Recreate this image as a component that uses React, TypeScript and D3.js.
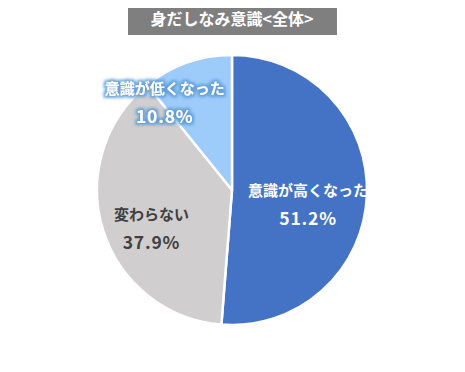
import React, { useRef, useEffect } from "react";
import * as d3 from "d3";

const categories = ["意識が高くなった", "変わらない", "意識が低くなった"];
const values = [51.2, 37.9, 10.8];
const colors = ["#4472C4", "#D0CECE", "#9DCBFA"];
const textColors = ["#fff", "#404040", "#fff"];
const title = "身だしなみ意識<全体>";

// label placement: fraction of radius and angular nudge (degrees) from slice middle
const labelRadius = [0.573, 0.66, 0.82];
const labelNudge = [8.2, -8, -18];

export default function App() {
  const svgRef = useRef<SVGSVGElement>(null);

  useEffect(() => {
    const width = 465;
    const height = 372;
    const svg = d3.select(svgRef.current);
    svg.selectAll("*").remove();
    svg.attr("width", width).attr("height", height);

    const font = "'Noto Sans CJK JP', 'Noto Sans', sans-serif";

    // glow for the light blue label
    const defs = svg.append("defs");
    const f = defs.append("filter").attr("id", "glow")
      .attr("filterUnits", "userSpaceOnUse")
      .attr("x", -200).attr("y", -200).attr("width", 400).attr("height", 400);
    f.append("feMorphology").attr("in", "SourceAlpha").attr("operator", "dilate").attr("radius", 1.5).attr("result", "d");
    f.append("feGaussianBlur").attr("in", "d").attr("stdDeviation", 1.5).attr("result", "b");
    f.append("feFlood").attr("flood-color", "#5B9BD5").attr("flood-opacity", 0.9);
    f.append("feComposite").attr("in2", "b").attr("operator", "in").attr("result", "g");
    const m = f.append("feMerge");
    m.append("feMergeNode").attr("in", "g");
    m.append("feMergeNode").attr("in", "SourceGraphic");

    // title
    svg.append("rect")
      .attr("x", 128).attr("y", 0)
      .attr("width", 209).attr("height", 35)
      .attr("fill", "#7F7F7F");
    svg.append("text")
      .attr("x", 232).attr("y", 18)
      .attr("text-anchor", "middle")
      .attr("dominant-baseline", "central")
      .attr("fill", "#fff")
      .attr("font-family", font)
      .attr("font-weight", "bold")
      .attr("font-size", 16)
      .text(title);

    const cx = 232, cy = 190, r = 135;
    const g = svg.append("g").attr("transform", `translate(${cx},${cy})`);

    const pie = d3.pie<number>().sort(null).value(d => d);
    const arcs = pie(values);
    const arc = d3.arc<d3.PieArcDatum<number>>().innerRadius(0).outerRadius(r);

    g.selectAll("path")
      .data(arcs)
      .join("path")
      .attr("d", arc)
      .attr("fill", (d, i) => colors[i])
      .attr("stroke", "#fff")
      .attr("stroke-width", 2.5)
      .attr("stroke-linejoin", "round");

    arcs.forEach((d, i) => {
      const a = (d.startAngle + d.endAngle) / 2 + (labelNudge[i] * Math.PI) / 180;
      const lr = r * labelRadius[i];
      const x = Math.sin(a) * lr;
      const y = -Math.cos(a) * lr;
      const t = g.append("text")
        .attr("text-anchor", "middle")
        .attr("fill", textColors[i])
        .attr("font-family", font)
        .attr("font-weight", "bold")
        .attr("font-size", 15);
      if (i === 2) t.attr("filter", "url(#glow)");
      t.append("tspan").attr("x", x).attr("y", y - 8).text(categories[i]);
      t.append("tspan").attr("x", x).attr("y", y + 21)
        .attr("font-size", 17.5)
        .attr("letter-spacing", 0.8)
        .text(values[i].toFixed(1) + "%");
    });
  }, []);

  return (
    <div>
      <svg ref={svgRef} style={{ display: "block", margin: "-8px" }}></svg>
    </div>
  );
}
